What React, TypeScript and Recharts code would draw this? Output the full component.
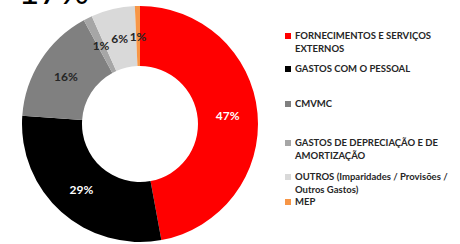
import { PieChart, Pie, Cell } from "recharts";

const categories = [
  "FORNECIMENTOS E SERVIÇOS EXTERNOS",
  "GASTOS COM O PESSOAL",
  "CMVMC",
  "GASTOS DE DEPRECIAÇÃO E DE AMORTIZAÇÃO",
  "OUTROS (Imparidades / Provisões / Outros Gastos)",
  "MEP",
];
const legendLines = [
  ["FORNECIMENTOS E SERVIÇOS", "EXTERNOS"],
  ["GASTOS COM O PESSOAL"],
  ["CMVMC"],
  ["GASTOS DE DEPRECIAÇÃO E DE", "AMORTIZAÇÃO"],
  ["OUTROS (Imparidades / Provisões /", "Outros Gastos)"],
  ["MEP"],
];
const shares = [47.1, 29.0, 16.0, 1.2, 6.0, 0.7];
const labels = ["47%", "29%", "16%", "1%", "6%", "1%"];
const colors = ["#ff0000", "#000000", "#808080", "#a6a6a6", "#d9d9d9", "#f79646"];
const labelColors = ["#ffffff", "#ffffff", "#262626", "#262626", "#262626", "#262626"];

// top of each legend entry, px from chart top
const legendTops = [29, 62, 97, 136, 170, 195];

const data = categories.map((name, i) => ({ name, value: shares[i] }));

const RAD = Math.PI / 180;

function SliceLabel(props: any) {
  const { cx, cy, midAngle, innerRadius, outerRadius, index } = props;
  const r = (innerRadius + outerRadius) / 2;
  const x = cx + r * Math.cos(-midAngle * RAD);
  const y = cy + r * Math.sin(-midAngle * RAD);
  return (
    <text
      x={x}
      y={y}
      fill={labelColors[index]}
      textAnchor="middle"
      dominantBaseline="central"
      fontSize={12}
      fontWeight={700}
      fontFamily="Lato, sans-serif"
    >
      {labels[index]}
    </text>
  );
}

function LegendBox() {
  return (
    <div style={{ position: "absolute", left: 285, top: 0, width: 175, height: 244 }}>
      {legendLines.map((lines, i) => (
        <div
          key={i}
          style={{
            position: "absolute",
            top: legendTops[i],
            left: 0,
            display: "flex",
            fontFamily: "Lato, sans-serif",
            fontWeight: 700,
            fontSize: 9.5,
            lineHeight: "13px",
            color: "#262626",
            whiteSpace: "nowrap",
          }}
        >
          <span
            style={{
              width: 6,
              height: 6,
              background: colors[i],
              marginTop: 3.5,
              marginRight: 4,
              flexShrink: 0,
            }}
          />
          <div>
            {lines.map((l, j) => (
              <div key={j}>{l}</div>
            ))}
          </div>
        </div>
      ))}
    </div>
  );
}

export default function App() {
  return (
    <div
      style={{
        position: "absolute",
        left: 0,
        top: 0,
        width: 460,
        height: 244,
        overflow: "hidden",
        background: "#ffffff",
      }}
    >
      <div
        style={{
          position: "absolute",
          left: -4,
          top: -31,
          fontFamily: "Lato, sans-serif",
          fontSize: 36,
          lineHeight: "43px",
          color: "#000",
          whiteSpace: "nowrap",
        }}
      >
        - 17%
      </div>
      <PieChart width={460} height={244} margin={{ top: 0, right: 0, bottom: 0, left: 0 }}>
        <Pie
          data={data}
          dataKey="value"
          nameKey="name"
          cx={140}
          cy={124}
          innerRadius={58}
          outerRadius={118}
          startAngle={90}
          endAngle={-270}
          stroke="none"
          label={SliceLabel}
          labelLine={false}
          isAnimationActive={false}
        >
          {data.map((d, i) => (
            <Cell key={d.name} fill={colors[i]} />
          ))}
        </Pie>
      </PieChart>
      <LegendBox />
    </div>
  );
}
